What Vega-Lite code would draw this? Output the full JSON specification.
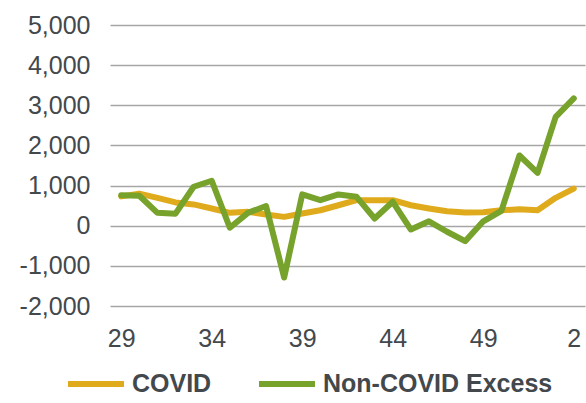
{
  "$schema": "https://vega.github.io/schema/vega-lite/v6.json",
  "width": 475,
  "height": 281,
  "autosize": {"type": "none"},
  "padding": {"left": 110, "top": 25, "right": 1, "bottom": 97},
  "background": "white",
  "config": {
    "view": {"stroke": null},
    "font": "Liberation Sans"
  },
  "data": {
    "values": [
      {"week": "29", "series": "COVID", "value": 730},
      {"week": "30", "series": "COVID", "value": 800},
      {"week": "31", "series": "COVID", "value": 695},
      {"week": "32", "series": "COVID", "value": 580},
      {"week": "33", "series": "COVID", "value": 530},
      {"week": "34", "series": "COVID", "value": 430},
      {"week": "35", "series": "COVID", "value": 320},
      {"week": "36", "series": "COVID", "value": 345},
      {"week": "37", "series": "COVID", "value": 280},
      {"week": "38", "series": "COVID", "value": 220},
      {"week": "39", "series": "COVID", "value": 305},
      {"week": "40", "series": "COVID", "value": 385},
      {"week": "41", "series": "COVID", "value": 510},
      {"week": "42", "series": "COVID", "value": 635},
      {"week": "43", "series": "COVID", "value": 635},
      {"week": "44", "series": "COVID", "value": 635},
      {"week": "45", "series": "COVID", "value": 510},
      {"week": "46", "series": "COVID", "value": 430},
      {"week": "47", "series": "COVID", "value": 360},
      {"week": "48", "series": "COVID", "value": 330},
      {"week": "49", "series": "COVID", "value": 335},
      {"week": "50", "series": "COVID", "value": 385},
      {"week": "51", "series": "COVID", "value": 410},
      {"week": "52", "series": "COVID", "value": 385},
      {"week": "1", "series": "COVID", "value": 695},
      {"week": "2", "series": "COVID", "value": 925},
      {"week": "29", "series": "Non-COVID Excess", "value": 760},
      {"week": "30", "series": "Non-COVID Excess", "value": 745},
      {"week": "31", "series": "Non-COVID Excess", "value": 320},
      {"week": "32", "series": "Non-COVID Excess", "value": 300},
      {"week": "33", "series": "Non-COVID Excess", "value": 970},
      {"week": "34", "series": "Non-COVID Excess", "value": 1120},
      {"week": "35", "series": "Non-COVID Excess", "value": -50},
      {"week": "36", "series": "Non-COVID Excess", "value": 320},
      {"week": "37", "series": "Non-COVID Excess", "value": 490},
      {"week": "38", "series": "Non-COVID Excess", "value": -1290},
      {"week": "39", "series": "Non-COVID Excess", "value": 780},
      {"week": "40", "series": "Non-COVID Excess", "value": 635},
      {"week": "41", "series": "Non-COVID Excess", "value": 780},
      {"week": "42", "series": "Non-COVID Excess", "value": 720},
      {"week": "43", "series": "Non-COVID Excess", "value": 180},
      {"week": "44", "series": "Non-COVID Excess", "value": 595},
      {"week": "45", "series": "Non-COVID Excess", "value": -95},
      {"week": "46", "series": "Non-COVID Excess", "value": 110},
      {"week": "47", "series": "Non-COVID Excess", "value": -150},
      {"week": "48", "series": "Non-COVID Excess", "value": -385},
      {"week": "49", "series": "Non-COVID Excess", "value": 110},
      {"week": "50", "series": "Non-COVID Excess", "value": 370},
      {"week": "51", "series": "Non-COVID Excess", "value": 1750},
      {"week": "52", "series": "Non-COVID Excess", "value": 1317},
      {"week": "1", "series": "Non-COVID Excess", "value": 2713},
      {"week": "2", "series": "Non-COVID Excess", "value": 3170}
    ]
  },
  "mark": {"type": "line", "strokeWidth": 6, "strokeCap": "round", "strokeJoin": "round"},
  "encoding": {
    "x": {
      "field": "week",
      "type": "ordinal",
      "sort": null,
      "scale": {"type": "point", "padding": 0.62},
      "axis": {
        "title": null,
        "values": ["29", "34", "39", "44", "49", "2"],
        "labelAngle": 0,
        "labelFontSize": 25,
        "labelColor": "#43484c",
        "labelPadding": 20,
        "ticks": false,
        "domain": false,
        "grid": false
      }
    },
    "y": {
      "field": "value",
      "type": "quantitative",
      "scale": {"domain": [-2000, 5000], "nice": false, "zero": false},
      "axis": {
        "title": null,
        "values": [-2000, -1000, 0, 1000, 2000, 3000, 4000, 5000],
        "labelExpr": "replace(format(datum.value, ',.0f'), '\u2212', '-')",
        "labelFontSize": 25,
        "labelColor": "#43484c",
        "labelPadding": 20,
        "ticks": false,
        "domain": false,
        "grid": true,
        "gridColor": "#a6a6a6",
        "gridWidth": 1.5
      }
    },
    "color": {
      "field": "series",
      "type": "nominal",
      "scale": {"domain": ["COVID", "Non-COVID Excess"], "range": ["#dfaa1b", "#77a22b"]},
      "legend": {
        "title": null,
        "orient": "none",
        "direction": "horizontal",
        "legendX": -45,
        "legendY": 328,
        "symbolType": "stroke",
        "symbolSize": 3136,
        "symbolStrokeWidth": 6,
        "labelFontSize": 25,
        "labelFontWeight": "bold",
        "labelColor": "#43484c",
        "labelOffset": 5,
        "columnPadding": 35,
        "labelLimit": 400
      }
    }
  }
}
